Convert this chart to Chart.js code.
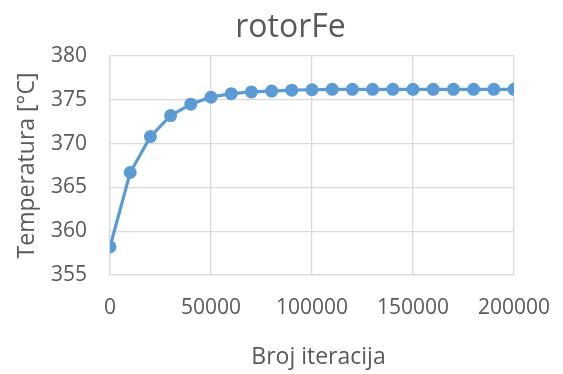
<!DOCTYPE html>
<html>
<head>
<meta charset="utf-8">
<script src="https://cdn.jsdelivr.net/npm/chart.js@4"></script>
<style>
  html, body { margin: 0; padding: 0; background: #fff; }
  #wrap { width: 563px; height: 374px; }
</style>
</head>
<body>
<div id="wrap"><canvas id="chart-canvas"></canvas></div>
<script>
const iteracije = [0, 10000, 20000, 30000, 40000, 50000, 60000, 70000, 80000, 90000,
  100000, 110000, 120000, 130000, 140000, 150000, 160000, 170000, 180000, 190000, 200000];
const temperature = [358.2, 366.7, 370.8, 373.2, 374.5, 375.3, 375.7, 375.9, 376.0, 376.1,
  376.15, 376.2, 376.2, 376.2, 376.2, 376.2, 376.2, 376.2, 376.2, 376.2, 376.2];
const yTicks = [355, 360, 365, 370, 375, 380];

const FONT = "'Open Sans', 'DejaVu Sans', sans-serif";
const TEXT = '#595959';
const GRID = '#d9d9d9';
const BLUE = '#5b9bd5';

// chart title and x-axis title sit off the plot centre, so they are drawn by hand
const naslovi = {
  id: 'naslovi',
  afterDraw(chart) {
    const c = chart.ctx;
    c.save();
    c.fillStyle = TEXT;
    c.textAlign = 'center';
    c.textBaseline = 'alphabetic';
    c.font = `32px ${FONT}`;
    c.fillText('rotorFe', 290.5, 37);
    c.font = `23px ${FONT}`;
    c.fillText('Broj iteracija', 318.5, 363.5);
    c.restore();
  }
};

const ctx = document.getElementById('chart-canvas').getContext('2d');
new Chart(ctx, {
  type: 'line',
  data: {
    datasets: [{
      label: 'rotorFe',
      data: iteracije.map((it, i) => ({ x: it, y: temperature[i] })),
      borderColor: BLUE,
      backgroundColor: BLUE,
      borderWidth: 3.2,
      pointRadius: 6.5,
      pointHoverRadius: 6.5,
      pointBorderWidth: 0,
      tension: 0,
      fill: false,
    }]
  },
  options: {
    responsive: true,
    maintainAspectRatio: false,
    animation: false,
    layout: { padding: { left: 0, right: 49, top: 56, bottom: 0 } },
    plugins: {
      legend: { display: false },
      tooltip: { enabled: false },
      title: { display: false }
    },
    scales: {
      x: {
        type: 'linear',
        min: 0,
        max: 200000,
        afterFit: s => {
          s.height = 99;
          s.paddingLeft = 0;
          s.paddingRight = 0;
        },
        border: { color: GRID, width: 1.3 },
        grid: { color: GRID, lineWidth: 1.3, drawTicks: false },
        ticks: {
          stepSize: 50000,
          color: TEXT,
          padding: 20,
          maxRotation: 0,
          font: { family: FONT, size: 21 },
          callback: v => String(v)
        }
      },
      y: {
        min: 355,
        max: 380,
        afterFit: s => {
          s.width = 110;
          s.paddingTop = 0;
          s.paddingBottom = 0;
        },
        afterBuildTicks: s => { s.ticks = yTicks.map(v => ({ value: v })); },
        border: { color: GRID, width: 1.3 },
        grid: { color: GRID, lineWidth: 1.3, drawTicks: false },
        ticks: {
          color: TEXT,
          padding: 23,
          font: { family: FONT, size: 21 }
        },
        title: {
          display: true,
          text: 'Temperatura [°C]',
          color: TEXT,
          font: { family: FONT, size: 23 },
          padding: { top: 14 }
        }
      }
    }
  },
  plugins: [naslovi]
});
</script>
</body>
</html>
